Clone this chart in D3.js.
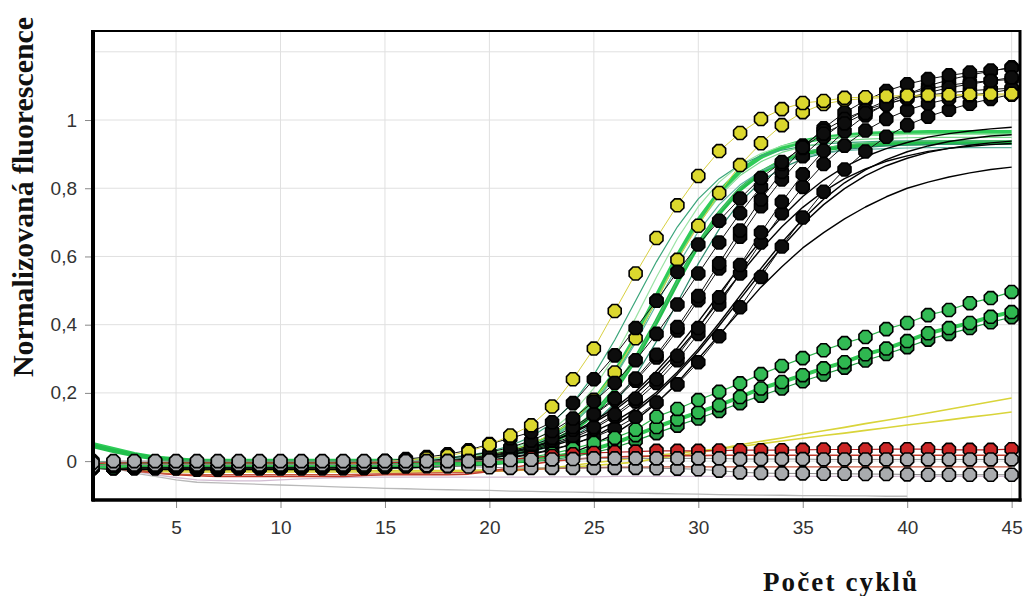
<!DOCTYPE html>
<html><head><meta charset="utf-8">
<script src="https://cdn.jsdelivr.net/npm/d3@7"></script>
<style>body{margin:0;background:#fff}svg{display:block}</style>
</head><body><svg id="c" width="1024" height="596"></svg>
<script>
// ---------- DATA ----------
const cycles = [1,2,3,4,5,6,7,8,9,10,11,12,13,14,15,16,17,18,19,20,21,22,23,24,25,26,27,28,29,30,31,32,33,34,35,36,37,38,39,40,41,42,43,44,45];
const xTicks = [5,10,15,20,25,30,35,40,45];
const yTicks = [0,0.2,0.4,0.6,0.8,1];
const yTickLabels = ["0","0,2","0,4","0,6","0,8","1"];
const yGrid = [0,0.2,0.4,0.6,0.8,1,1.2];
const yTitle = "Normalizovaná fluorescence";
const xTitle = "Počet cyklů";

const yellowUp = [0.00,-0.01,-0.01,-0.01,-0.01,-0.01,-0.01,-0.01,-0.01,-0.01,
 -0.01,-0.01,-0.01,-0.005,0.0,0.003,0.008,0.015,0.028,0.048,
 0.075,0.105,0.16,0.24,0.33,0.44,0.55,0.654,0.75,0.836,
 0.909,0.962,1.003,1.032,1.05,1.056,1.065,1.067,1.07,1.072,
 1.073,1.074,1.075,1.076,1.077];
const yellowLo = [-0.02,-0.02,-0.02,-0.02,-0.02,-0.02,-0.02,-0.02,-0.02,-0.02,
 -0.02,-0.02,-0.02,-0.02,-0.015,-0.01,-0.005,0.0,0.008,0.018,
 0.03,0.05,0.08,0.117,0.18,0.26,0.36,0.47,0.59,0.69,
 0.786,0.868,0.932,0.985,1.023,1.047,1.058,1.063,1.066,1.068,
 1.07,1.071,1.072,1.073,1.074];
const blackA = [-0.02,-0.02,-0.015,-0.015,-0.015,-0.015,-0.015,-0.015,-0.015,-0.015,
 -0.015,-0.01,-0.01,-0.005,0.0,0.006,0.012,0.02,0.032,0.05,
 0.067,0.085,0.114,0.17,0.24,0.31,0.39,0.47,0.555,0.635,
 0.705,0.77,0.83,0.877,0.92,0.96,0.99,1.02,1.045,1.065,
 1.08,1.095,1.105,1.115,1.125];
const blackB1 = [-0.01,-0.015,-0.015,-0.015,-0.02,-0.02,-0.02,-0.02,-0.015,-0.015,
 -0.015,-0.015,-0.01,-0.01,-0.01,-0.005,0.0,0.008,0.016,0.026,
 0.04,0.06,0.088,0.125,0.175,0.229,0.296,0.373,0.459,0.55,
 0.641,0.727,0.804,0.871,0.925,0.969,1.003,1.029,1.048,1.062,
 1.073,1.08,1.086,1.09,1.093];
const blackB2 = [-0.015,-0.02,-0.02,-0.02,-0.02,-0.02,-0.02,-0.02,-0.02,-0.02,
 -0.02,-0.015,-0.015,-0.015,-0.01,-0.01,-0.005,0.0,0.008,0.018,
 0.03,0.045,0.068,0.1,0.138,0.184,0.242,0.312,0.393,0.484,
 0.58,0.676,0.767,0.848,0.918,0.976,1.022,1.057,1.085,1.105,
 1.12,1.131,1.139,1.145,1.152];
const blackB3 = [-0.02,-0.02,-0.02,-0.02,-0.02,-0.025,-0.025,-0.02,-0.02,-0.02,
 -0.02,-0.02,-0.02,-0.015,-0.015,-0.01,-0.008,-0.004,0.004,0.013,
 0.025,0.04,0.062,0.092,0.135,0.18,0.236,0.304,0.383,0.472,
 0.565,0.658,0.747,0.826,0.894,0.95,0.995,1.03,1.057,1.076,
 1.091,1.102,1.11,1.115,1.119];
const blackB4 = [-0.01,-0.015,-0.015,-0.015,-0.015,-0.015,-0.015,-0.015,-0.015,-0.015,
 -0.015,-0.015,-0.01,-0.01,-0.01,-0.008,-0.005,0.0,0.006,0.014,
 0.025,0.036,0.052,0.073,0.1,0.137,0.183,0.24,0.309,0.39,
 0.48,0.575,0.67,0.76,0.841,0.91,0.967,1.013,1.048,1.075,
 1.10,1.118,1.132,1.143,1.155];
const blackB5 = [-0.02,-0.02,-0.02,-0.02,-0.02,-0.02,-0.02,-0.02,-0.02,-0.02,
 -0.02,-0.02,-0.018,-0.018,-0.015,-0.012,-0.01,-0.005,0.002,0.01,
 0.02,0.032,0.048,0.068,0.095,0.131,0.175,0.229,0.296,0.373,
 0.459,0.55,0.641,0.727,0.804,0.871,0.925,0.969,1.003,1.029,
 1.048,1.062,1.073,1.08,1.09];
const blackB6 = [-0.015,-0.02,-0.02,-0.02,-0.02,-0.02,-0.02,-0.02,-0.02,-0.02,
 -0.02,-0.02,-0.02,-0.02,-0.018,-0.015,-0.012,-0.01,-0.005,0.002,
 0.012,0.022,0.035,0.05,0.07,0.095,0.129,0.172,0.225,0.29,
 0.366,0.451,0.54,0.629,0.714,0.79,0.855,0.908,0.951,0.985,
 1.01,1.03,1.048,1.062,1.075];

const blackL1 = [-0.01,-0.015,-0.02,-0.02,-0.02,-0.02,-0.02,-0.02,-0.02,-0.02,
 -0.02,-0.02,-0.02,-0.02,-0.02,-0.02,-0.018,-0.015,-0.012,-0.01,
 -0.005,0.0,0.01,0.025,0.05,0.08,0.12,0.17,0.23,0.30,
 0.37,0.44,0.51,0.57,0.625,0.67,0.71,0.745,0.775,0.80,
 0.818,0.833,0.845,0.855,0.862];
const blackL2 = [-0.01,-0.015,-0.015,-0.015,-0.015,-0.015,-0.015,-0.015,-0.015,-0.015,
 -0.015,-0.015,-0.015,-0.012,-0.01,-0.008,-0.005,0.0,0.006,0.014,
 0.025,0.04,0.058,0.085,0.117,0.156,0.204,0.264,0.332,0.409,
 0.49,0.571,0.648,0.716,0.776,0.824,0.863,0.893,0.916,0.934,
 0.95,0.96,0.968,0.974,0.979];
const blackL3 = [-0.015,-0.02,-0.02,-0.02,-0.02,-0.02,-0.02,-0.02,-0.02,-0.02,
 -0.02,-0.02,-0.02,-0.018,-0.016,-0.013,-0.01,-0.006,0.0,0.008,
 0.018,0.03,0.044,0.063,0.086,0.116,0.154,0.202,0.261,0.329,
 0.405,0.485,0.565,0.641,0.709,0.768,0.816,0.854,0.884,0.907,
 0.924,0.937,0.946,0.953,0.957];
const blackL4 = [-0.02,-0.025,-0.025,-0.025,-0.025,-0.025,-0.025,-0.025,-0.025,-0.025,
 -0.025,-0.025,-0.025,-0.022,-0.02,-0.018,-0.015,-0.01,-0.005,0.002,
 0.01,0.02,0.033,0.05,0.072,0.104,0.145,0.195,0.255,0.322,
 0.397,0.475,0.553,0.628,0.695,0.752,0.799,0.837,0.866,0.888,
 0.905,0.917,0.926,0.933,0.938];
const blackL5 = [-0.01,-0.015,-0.015,-0.015,-0.015,-0.015,-0.015,-0.015,-0.015,-0.015,
 -0.015,-0.015,-0.012,-0.01,-0.008,-0.005,-0.002,0.002,0.008,0.016,
 0.026,0.04,0.058,0.083,0.112,0.149,0.196,0.253,0.319,0.392,
 0.47,0.548,0.621,0.687,0.744,0.791,0.828,0.857,0.879,0.895,
 0.908,0.917,0.923,0.928,0.931];

const greenL1 = [0.0,-0.005,-0.005,-0.005,-0.005,-0.005,-0.005,-0.005,-0.005,-0.005,
 -0.005,-0.005,-0.005,-0.005,-0.003,0.0,0.006,0.010,0.017,0.028,
 0.045,0.071,0.112,0.171,0.253,0.355,0.47,0.585,0.687,0.769,
 0.828,0.869,0.895,0.912,0.923,0.93,0.934,0.936,0.938,0.939,
 0.939,0.939,0.939,0.939,0.939];
const greenL2 = [0.0,-0.005,-0.005,-0.005,-0.005,-0.005,-0.005,-0.005,-0.005,-0.005,
 -0.005,-0.005,-0.005,-0.005,-0.005,-0.003,0.0,0.006,0.010,0.017,
 0.028,0.045,0.072,0.113,0.173,0.255,0.359,0.475,0.591,0.695,
 0.777,0.837,0.878,0.905,0.922,0.933,0.94,0.944,0.946,0.948,
 0.949,0.949,0.949,0.949,0.949];
const greenL3 = [0.0,-0.005,-0.005,-0.005,-0.005,-0.005,-0.005,-0.005,-0.005,-0.005,
 -0.005,-0.005,-0.005,-0.005,-0.005,-0.005,-0.003,0.0,0.006,0.010,
 0.017,0.027,0.044,0.071,0.111,0.17,0.25,0.351,0.465,0.579,
 0.68,0.76,0.819,0.859,0.886,0.903,0.913,0.92,0.924,0.926,
 0.928,0.929,0.929,0.929,0.929];
const greenL4 = [0.0,-0.005,-0.005,-0.005,-0.005,-0.005,-0.005,-0.005,-0.005,-0.005,
 -0.005,-0.005,-0.005,-0.005,-0.003,0.0,0.005,0.008,0.013,0.022,
 0.036,0.058,0.091,0.142,0.214,0.308,0.42,0.54,0.652,0.746,
 0.818,0.869,0.902,0.924,0.938,0.947,0.952,0.955,0.957,0.958,
 0.959,0.959,0.959,0.959,0.959];
const greenL5 = [0.0,-0.005,-0.005,-0.005,-0.005,-0.005,-0.005,-0.005,-0.005,-0.005,
 -0.005,-0.005,-0.005,-0.005,-0.005,-0.003,0.0,0.005,0.008,0.013,
 0.022,0.035,0.056,0.09,0.139,0.209,0.302,0.412,0.528,0.638,
 0.731,0.801,0.85,0.884,0.905,0.918,0.927,0.932,0.935,0.937,
 0.938,0.939,0.939,0.939,0.939];
const greenL6 = [0.0,-0.005,-0.005,-0.005,-0.005,-0.005,-0.005,-0.005,-0.005,-0.005,
 -0.005,-0.005,-0.005,-0.005,-0.005,-0.003,0.0,0.006,0.010,0.017,
 0.027,0.044,0.07,0.11,0.168,0.247,0.347,0.46,0.573,0.673,
 0.752,0.81,0.85,0.876,0.893,0.903,0.91,0.914,0.916,0.918,
 0.919,0.919,0.919,0.919,0.919];
const greenThick1 = [0.05,0.035,0.02,0.01,0.005,0.0,0.0,0.0,0.0,0.0,
 0.0,0.0,0.0,0.0,0.0,0.0,0.002,0.006,0.011,0.017,
 0.028,0.046,0.073,0.115,0.176,0.259,0.364,0.483,0.601,0.706,
 0.789,0.85,0.892,0.919,0.937,0.948,0.954,0.959,0.961,0.963,
 0.964,0.964,0.964,0.964,0.964];
const greenThick2 = [0.045,0.03,0.018,0.008,0.003,-0.002,-0.002,-0.002,-0.002,-0.002,
 -0.002,-0.002,-0.002,-0.002,-0.002,-0.002,0.0,0.005,0.008,0.013,
 0.022,0.035,0.056,0.089,0.138,0.208,0.3,0.409,0.526,0.635,
 0.727,0.797,0.846,0.879,0.9,0.914,0.922,0.927,0.93,0.932,
 0.933,0.934,0.934,0.934,0.934];

const greenM1 = [-0.01,-0.01,-0.005,-0.005,-0.005,-0.005,-0.005,-0.005,-0.005,-0.005,
 -0.005,-0.005,-0.005,-0.005,-0.005,-0.005,-0.005,-0.005,-0.003,0.0,
 0.005,0.012,0.022,0.036,0.053,0.068,0.092,0.13,0.153,0.179,
 0.203,0.228,0.255,0.279,0.302,0.325,0.346,0.364,0.387,0.405,
 0.428,0.443,0.463,0.478,0.496];
const greenM2 = [-0.015,-0.015,-0.01,-0.01,-0.01,-0.01,-0.01,-0.01,-0.01,-0.01,
 -0.01,-0.01,-0.01,-0.01,-0.01,-0.01,-0.01,-0.01,-0.008,-0.005,
 0.0,0.005,0.012,0.022,0.035,0.053,0.076,0.10,0.122,0.143,
 0.164,0.188,0.213,0.232,0.252,0.272,0.29,0.313,0.33,0.352,
 0.375,0.39,0.405,0.423,0.437];
const greenM3 = [-0.02,-0.02,-0.015,-0.015,-0.015,-0.015,-0.015,-0.015,-0.015,-0.015,
 -0.015,-0.015,-0.015,-0.015,-0.015,-0.015,-0.015,-0.015,-0.012,-0.01,
 -0.006,-0.002,0.004,0.013,0.025,0.04,0.06,0.082,0.104,0.125,
 0.147,0.17,0.192,0.213,0.234,0.254,0.274,0.295,0.314,0.334,
 0.356,0.373,0.39,0.407,0.422];

const yellowL1 = [0.0,-0.01,-0.02,-0.025,-0.028,-0.028,-0.028,-0.028,-0.028,-0.028,
 -0.028,-0.028,-0.028,-0.028,-0.028,-0.028,-0.028,-0.028,-0.027,-0.026,
 -0.025,-0.022,-0.02,-0.017,-0.013,-0.008,-0.003,0.008,0.016,0.024,
 0.036,0.048,0.058,0.068,0.079,0.089,0.099,0.11,0.12,0.13,
 0.141,0.152,0.163,0.174,0.185];
const yellowL2 = [-0.005,-0.015,-0.025,-0.03,-0.032,-0.032,-0.032,-0.032,-0.032,-0.032,
 -0.032,-0.032,-0.032,-0.032,-0.032,-0.032,-0.032,-0.032,-0.03,-0.03,
 -0.028,-0.025,-0.02,-0.012,-0.005,0.002,0.01,0.017,0.023,0.03,
 0.036,0.043,0.051,0.059,0.067,0.075,0.082,0.09,0.098,0.106,
 0.113,0.121,0.129,0.136,0.144];

const redM = [-0.005,-0.005,-0.005,-0.005,-0.005,-0.005,-0.005,-0.005,-0.005,-0.005,
 -0.005,-0.005,-0.005,-0.005,-0.005,-0.003,-0.002,0.0,0.0,0.002,
 0.005,0.01,0.015,0.02,0.024,0.026,0.028,0.03,0.03,0.03,
 0.031,0.032,0.032,0.032,0.033,0.034,0.034,0.034,0.035,0.035,
 0.035,0.033,0.033,0.033,0.035];
const redL1 = [0.0,-0.015,-0.025,-0.035,-0.04,-0.043,-0.045,-0.045,-0.045,-0.045,
 -0.045,-0.045,-0.045,-0.042,-0.04,-0.04,-0.04,-0.04,-0.038,-0.03,
 -0.02,-0.01,0.0,0.005,0.01,0.012,0.014,0.015,0.016,0.016,
 0.017,0.017,0.017,0.017,0.017,0.017,0.017,0.017,0.017,0.017,
 0.017,0.017,0.017,0.017,0.017];
const redL2 = [-0.01,-0.02,-0.03,-0.035,-0.038,-0.04,-0.04,-0.04,-0.04,-0.04,
 -0.04,-0.04,-0.04,-0.038,-0.037,-0.036,-0.035,-0.034,-0.033,-0.03,
 -0.027,-0.024,-0.022,-0.02,-0.019,-0.018,-0.018,-0.017,-0.017,-0.017,
 -0.017,-0.017,-0.017,-0.017,-0.017,-0.017,-0.017,-0.017,-0.017,-0.017,
 -0.017,-0.017,-0.017,-0.017,-0.017];

const grayM1 = [-0.005,0.0,0.0,0.0,0.0,0.0,0.0,0.0,0.0,0.0,
 0.0,0.0,0.0,0.0,0.0,0.0,0.0,0.0,0.0,0.002,
 0.003,0.004,0.005,0.006,0.008,0.008,0.008,0.008,0.008,0.008,
 0.008,0.006,0.006,0.006,0.006,0.005,0.005,0.005,0.005,0.005,
 0.005,0.005,0.005,0.005,0.005];
const grayM2 = [-0.015,-0.01,-0.01,-0.01,-0.01,-0.01,-0.01,-0.01,-0.01,-0.01,
 -0.01,-0.01,-0.01,-0.01,-0.01,-0.01,-0.012,-0.014,-0.016,-0.018,
 -0.02,-0.02,-0.02,-0.02,-0.02,-0.02,-0.02,-0.021,-0.022,-0.024,
 -0.028,-0.033,-0.035,-0.036,-0.036,-0.037,-0.037,-0.038,-0.038,-0.039,
 -0.04,-0.04,-0.04,-0.04,-0.04];
const grayL1 = [0.0,-0.02,-0.035,-0.045,-0.055,-0.062,-0.064,-0.066,-0.068,-0.07,
 -0.072,-0.074,-0.076,-0.078,-0.08,-0.081,-0.083,-0.084,-0.085,-0.086,
 -0.088,-0.089,-0.09,-0.091,-0.092,-0.093,-0.094,-0.095,-0.096,-0.097,
 -0.098,-0.099,-0.1,-0.1,-0.101,-0.101,-0.102,-0.102,-0.103,-0.103,
 null,null,null,null,null];
const lavenderL = [0.0,-0.015,-0.03,-0.04,-0.048,-0.055,-0.057,-0.058,-0.058,-0.055,
 -0.052,-0.05,-0.048,-0.047,-0.047,-0.047,-0.047,-0.047,-0.047,-0.047,
 -0.047,-0.047,-0.046,-0.046,-0.046,-0.045,-0.045,-0.045,-0.045,-0.045,
 -0.045,-0.045,-0.045,-0.045,-0.045,-0.045,-0.045,-0.045,-0.045,-0.045,
 -0.045,-0.045,-0.045,-0.045,-0.045];

// ---------- STYLE / DRAW ORDER ----------
const layers = [
  {d: grayL1, line:"#b9b9b9", w:1.3},
  {d: lavenderL, line:"#d2bcd2", w:1.3},
  {d: yellowL1, line:"#d9d43a", w:1.6},
  {d: yellowL2, line:"#d9d43a", w:1.6},
  {d: redL1, line:"#c23a2c", w:1.6},
  {d: redL2, line:"#c8563f", w:1.4},
  {d: greenThick1, line:"#2fcc58", w:4.5},
  {d: greenThick2, line:"#22bf4c", w:4.5},
  {d: greenL1, line:"#3aa57a", w:1.2},
  {d: greenL2, line:"#7ed88f", w:1.2},
  {d: greenL3, line:"#2e8b6e", w:1.2},
  {d: greenL4, line:"#9be3a5", w:1.2},
  {d: greenL5, line:"#4cbf6a", w:1.2},
  {d: greenL6, line:"#5fb3a0", w:1.2},
  {d: blackL1, line:"#000", w:1.4},
  {d: blackL2, line:"#000", w:1.4},
  {d: blackL3, line:"#000", w:1.4},
  {d: blackL4, line:"#000", w:1.4},
  {d: blackL5, line:"#000", w:1.4},
  {d: yellowLo, line:"#d8d040", w:1, fill:"#d9d62c"},
  {d: blackB6, line:"#111", w:1, fill:"#0d0d0d"},
  {d: blackB5, line:"#111", w:1, fill:"#0d0d0d"},
  {d: blackB4, line:"#111", w:1, fill:"#0d0d0d"},
  {d: blackB3, line:"#111", w:1, fill:"#0d0d0d"},
  {d: blackB2, line:"#111", w:1, fill:"#0d0d0d"},
  {d: blackB1, line:"#111", w:1, fill:"#0d0d0d"},
  {d: blackA, line:"#111", w:1, fill:"#0d0d0d"},
  {d: greenM3, line:"#1f9a40", w:1.2, fill:"#259b45"},
  {d: greenM2, line:"#33c955", w:4, fill:"#2fb750"},
  {d: greenM1, line:"#2db34a", w:1.2, fill:"#33bb55"},
  {d: yellowUp, line:"#d8d040", w:1, fill:"#dcd82e"},
  {d: redM, line:"#b52222", w:1.2, fill:"#cc2626"},
  {d: grayM2, line:"#8a8a8a", w:1, fill:"#a9abae"},
  {d: grayM1, line:"#8a8a8a", w:1, fill:"#aaacaf"}
];

// ---------- CHART ----------
const svg = d3.select("#c");
const PL = 93, PR = 1020, PT = 31, PB = 500;
const x = d3.scaleLinear().domain([1, 45.4]).range([92.5, 1020]);
const y = d3.scaleLinear().domain([-0.114, 1.261]).range([500, 31]);

svg.append("defs").append("clipPath").attr("id","clip")
  .append("rect").attr("x",PL).attr("y",PT).attr("width",PR-PL).attr("height",PB-PT);

// grid
const grid = svg.append("g");
grid.selectAll("line.h").data(yGrid).join("line")
  .attr("x1",PL).attr("x2",PR).attr("y1",d=>y(d)).attr("y2",d=>y(d))
  .attr("stroke","#e0e0e0").attr("stroke-width",1);
grid.selectAll("line.v").data(xTicks).join("line")
  .attr("x1",d=>x(d)).attr("x2",d=>x(d)).attr("y1",PT).attr("y2",PB)
  .attr("stroke","#e0e0e0").attr("stroke-width",1);

const plot = svg.append("g").attr("clip-path","url(#clip)");
const lineGen = d3.line().defined(d=>d!=null).x((d,i)=>x(cycles[i])).y(d=>y(d));

function octagon(r){
  const p=[];
  for(let i=0;i<8;i++){const a=Math.PI/8+i*Math.PI/4;p.push([(r*Math.cos(a)).toFixed(2),(r*Math.sin(a)).toFixed(2)]);}
  return "M"+p.map(q=>q.join(",")).join("L")+"Z";
}
const oct = octagon(7);

layers.forEach(s=>{
  plot.append("path").attr("d", lineGen(s.d)).attr("fill","none")
    .attr("stroke", s.line).attr("stroke-width", s.w).attr("stroke-linejoin","round");
  if (s.fill){
    const pts = s.d.map((v,i)=>({c:cycles[i], v})).filter(p=>p.v!=null);
    plot.append("g").selectAll("path").data(pts).join("path")
      .attr("d", oct)
      .attr("transform", p=>`translate(${x(p.c)},${y(p.v)})`)
      .attr("fill", s.fill).attr("stroke","#000").attr("stroke-width",1.6);
  }
});

// axes
const yAxis = d3.axisLeft(y).tickValues(yTicks).tickFormat((d,i)=>yTickLabels[i]).tickSize(8).tickPadding(8);
const gy = svg.append("g").attr("transform",`translate(${PL},0)`).call(yAxis);
const xAxis = d3.axisBottom(x).tickValues(xTicks).tickFormat(d=>String(d)).tickSize(8).tickPadding(13);
const gx = svg.append("g").attr("transform",`translate(0,${PB})`).call(xAxis);
[gx,gy].forEach(g=>{
  g.select(".domain").remove();
  g.selectAll(".tick line").attr("stroke","#888");
  g.selectAll(".tick text").attr("fill","#333").style("font-family","'Liberation Sans', Arial, sans-serif").style("font-size","19px");
});

// frame
const fr = svg.append("g").attr("stroke","#000").attr("fill","none");
fr.append("line").attr("x1",PL).attr("x2",PR).attr("y1",PT).attr("y2",PT).attr("stroke-width",2.2);
fr.append("line").attr("x1",PL-1).attr("x2",PR+1.5).attr("y1",PB).attr("y2",PB).attr("stroke-width",3.5);
fr.append("line").attr("x1",PL).attr("x2",PL).attr("y1",PT-1).attr("y2",PB+1.5).attr("stroke-width",4);
fr.append("line").attr("x1",PR).attr("x2",PR).attr("y1",PT-1).attr("y2",PB+1.5).attr("stroke-width",3);

// titles
svg.append("text").attr("transform","translate(33,197) rotate(-90)")
  .attr("text-anchor","middle").attr("textLength",360).attr("lengthAdjust","spacingAndGlyphs")
  .style("font-family","'Liberation Serif','Times New Roman',serif").style("font-weight","bold").style("font-size","30px")
  .attr("fill","#111").text(yTitle);
svg.append("text").attr("x",840).attr("y",591)
  .attr("text-anchor","middle").attr("textLength",154).attr("lengthAdjust","spacing")
  .style("font-family","'Liberation Serif','Times New Roman',serif").style("font-weight","bold").style("font-size","27px")
  .attr("fill","#111").text(xTitle);
</script></body></html>
